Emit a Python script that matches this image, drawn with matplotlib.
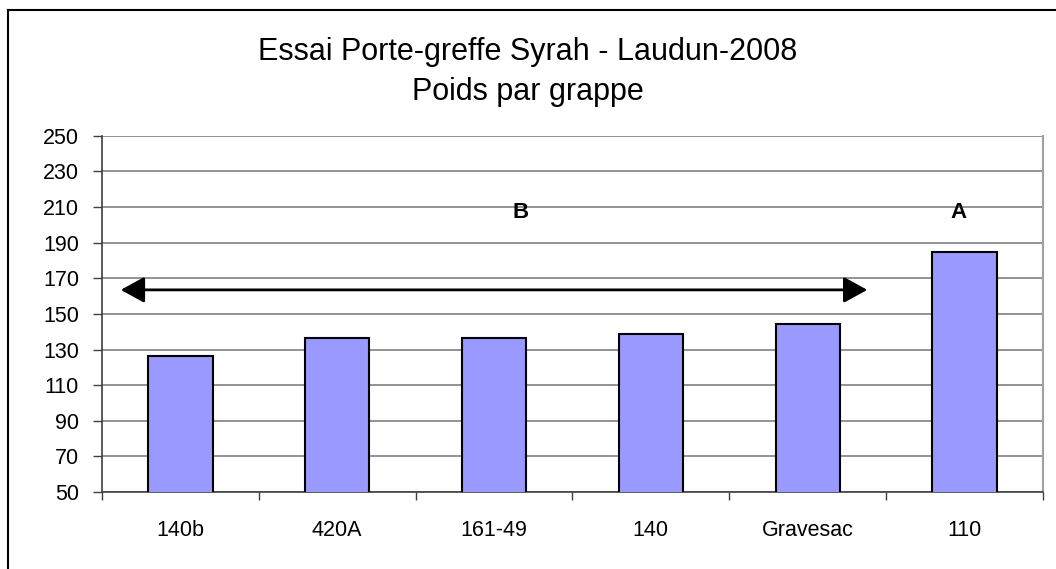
import matplotlib
matplotlib.use('Agg')
import matplotlib.pyplot as plt
import numpy as np
from matplotlib.lines import Line2D

plt.rcParams['font.family'] = ['Liberation Sans', 'DejaVu Sans']

categories = ['140b', '420A', '161-49', '140', 'Gravesac', '110']
poids = [126.6, 136.5, 136.5, 138.5, 144.5, 184.5]
groupes = ['B', 'A']
yticks = list(range(50, 251, 20))

fig = plt.figure(figsize=(10.56, 5.69), dpi=100)
ax = fig.add_axes([0.0966, 0.1353, 0.891, 0.626])

x = np.arange(len(categories))
ax.bar(x, poids, width=0.41, color='#9999FF', edgecolor='black', linewidth=1.5, zorder=3)

ax.set_xlim(-0.5, len(categories) - 0.5)
ax.set_ylim(50, 250)
ax.set_yticks(yticks)
ax.yaxis.grid(True, color='#808080', linewidth=1.2, zorder=0)
ax.set_xticks(x)
ax.set_xticklabels(categories, fontsize=15.5)
ax.tick_params(axis='x', length=0, pad=20)
ax.set_xticks(np.arange(-0.5, len(categories)), minor=True)
ax.tick_params(axis='x', which='minor', length=6, color='#404040', width=1)
ax.tick_params(axis='y', labelsize=15.5, length=6.5, color='#404040', width=1, pad=10)

ax.spines['top'].set_visible(False)
ax.spines['right'].set_color('#a0a0a0')
ax.spines['right'].set_linewidth(1.5)
ax.spines['left'].set_color('#404040')
ax.spines['bottom'].set_color('#404040')
ax.spines['left'].set_linewidth(1.2)
ax.spines['bottom'].set_linewidth(1.2)

# fleche groupe B
ax.annotate('', xy=(-0.38, 163.5), xytext=(4.38, 163.5),
            arrowprops=dict(arrowstyle='<|-|>,head_length=0.4,head_width=0.22', color='black', lw=2,
                            mutation_scale=36, shrinkA=0, shrinkB=0), zorder=4)
ax.text(2.17, 207, groupes[0], fontsize=16, fontweight='bold', ha='center', va='center')
ax.text(4.96, 207, groupes[1], fontsize=16, fontweight='bold', ha='center', va='center')

fig.text(0.5, 0.908, 'Essai Porte-greffe Syrah - Laudun-2008', fontsize=22, ha='center', va='center')
fig.text(0.5, 0.838, 'Poids par grappe', fontsize=22, ha='center', va='center')

# cadre
fig.add_artist(Line2D([0.0076, 0.0076], [0.0, 0.9824], transform=fig.transFigure, color='black', lw=1.5))
fig.add_artist(Line2D([0.0076, 1.0], [0.9824, 0.9824], transform=fig.transFigure, color='black', lw=1.5))

fig.savefig('out.png', dpi=100)
